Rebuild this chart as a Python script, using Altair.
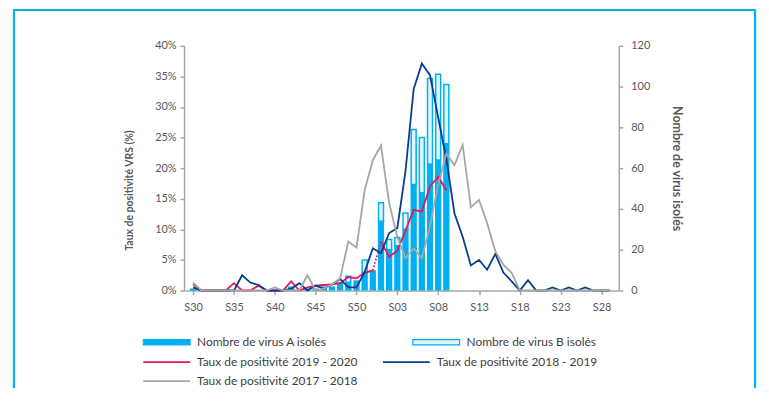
import json
import altair as alt
import pandas as pd

# ---------------- data ----------------
weeks = ["S30", "S31", "S32", "S33", "S34", "S35", "S36", "S37", "S38", "S39",
         "S40", "S41", "S42", "S43", "S44", "S45", "S46", "S47", "S48", "S49",
         "S50", "S51", "S52", "S01", "S02", "S03", "S04", "S05", "S06", "S07",
         "S08", "S09", "S10", "S11", "S12", "S13", "S14", "S15", "S16", "S17",
         "S18", "S19", "S20", "S21", "S22", "S23", "S24", "S25", "S26", "S27",
         "S28", "S29"]
tick_labels = ["S30", "S35", "S40", "S45", "S50", "S03", "S08", "S13", "S18", "S23", "S28"]

# positivity rates (%), left axis
rate_2019_2020 = [1.0, 0, 0, 0, 0, 1.2, 0, 0, 0.8, 0,
                  0, 0, 1.5, 0, 0.5, 0.8, 0.9, 1.0, 1.2, 2.2,
                  2.0, 2.9, 3.3, 8.0, 5.5, 6.5, 9.8, 13.2, 12.9, 17.0,
                  18.6, 16.4]
rate_2018_2019 = [0.5, 0, 0, 0, 0, 0, 2.5, 1.3, 0.9, 0,
                  0, 0, 0.3, 1.2, 0, 0.8, 0.3, 1.0, 1.9, 0.5,
                  0.5, 3.0, 6.9, 6.1, 9.4, 10.2, 19.5, 32.9, 37.1, 35.2,
                  28.3, 21.5, 12.6, 8.8, 4.1, 5.0, 3.4, 6.0, 2.9, 1.5,
                  0, 1.7, 0, 0, 0.5, 0, 0.5, 0, 0.5, 0,
                  0, 0]
rate_2017_2018 = [1.3, 0, 0, 0, 0, 0, 0, 0, 0, 0,
                  0.5, 0, 0, 0, 2.5, 0, 0.3, 1.0, 2.0, 8.0,
                  7.0, 16.4, 21.3, 23.7, 14.3, 8.8, 5.3, 6.9, 5.3, 10.5,
                  17.3, 22.4, 20.5, 23.8, 13.6, 14.8, 11.0, 6.4, 4.2, 2.9,
                  0, 0, 0, 0, 0, 0, 0, 0, 0, 0,
                  0, 0]

# isolated viruses (count), right axis
virus_a = [1, 0, 0, 0, 0, 0, 0, 0, 0, 0,
           0, 0, 2, 0, 1, 1, 2, 2, 4, 4,
           5, 9, 10, 34, 20, 22, 30, 52, 48, 62,
           64, 72, 0, 0, 0, 0, 0, 0, 0, 0,
           0, 0, 0, 0, 0, 0, 0, 0, 0, 0,
           0, 0]
virus_b = [0, 0, 0, 0, 0, 0, 0, 0, 0, 0,
           0, 0, 0, 0, 0, 0, 0, 0, 0, 3,
           0, 6, 0, 9, 5, 4, 8, 27, 27, 42,
           42, 29, 0, 0, 0, 0, 0, 0, 0, 0,
           0, 0, 0, 0, 0, 0, 0, 0, 0, 0,
           0, 0]

line_names = ["Taux de positivité 2019 - 2020",
              "Taux de positivité 2018 - 2019",
              "Taux de positivité 2017 - 2018"]
line_colors = ["#e5175b", "#0b3c8e", "#a6a6a6"]
bar_names = ["Nombre de virus A isolés", "Nombre de virus B isolés"]
bar_colors = ["#00b0f0", "#e2f5fd"]

FONT = "Lato"
TEXT = "#595959"
FRAME = "#00b0f0"
n = len(weeks)

bars = pd.DataFrame({"idx": list(range(n)), "week": weeks, "A": virus_a, "B": virus_b})

rows = []
for name, values in zip(line_names, [rate_2019_2020, rate_2018_2019, rate_2017_2018]):
    for i, v in enumerate(values):
        seg = "after" if (name == line_names[0] and i >= 23) else "before"
        rows.append({"idx": i, "week": weeks[i], "series": name, "pct": v, "seg": seg})
lines = pd.DataFrame(rows)

# ---------------- encodings ----------------
x_enc = alt.X(
    "idx:Q",
    scale=alt.Scale(domain=[-0.5, n - 0.5], nice=False, zero=False),
    axis=alt.Axis(
        values=[5 * k for k in range(len(tick_labels))],
        labelExpr=f"{json.dumps(tick_labels)}[round(datum.value / 5)]",
        title=None, grid=False, tickSize=4, labelPadding=7, labelFlush=5,
    ),
)

right_scale = alt.Scale(domain=[0, 120], nice=False)
right_axis = alt.Axis(orient="right", values=list(range(0, 121, 20)),
                      title="Nombre de virus isolés", grid=False, tickSize=4,
                      labelPadding=8, titlePadding=20, titleFontSize=12.5)

left_scale = alt.Scale(domain=[0, 40], nice=False)
left_axis = alt.Axis(orient="left", values=list(range(0, 41, 5)),
                     labelExpr="datum.value + '%'",
                     title="Taux de positivité VRS (%)", grid=False, tickSize=4,
                     labelPadding=4, titlePadding=20, titleFontSize=10.5, titleY=145)

bar_legend = alt.Legend(
    orient="none", direction="horizontal", legendX=-42, legendY=291, columns=2,
    columnPadding=85, rowPadding=5, clipHeight=14, title=None, padding=0,
    symbolType="M-1,-0.11H1V0.11H-1Z", symbolSize=2209,
    symbolStrokeColor="#00b0f0", symbolStrokeWidth=1.2, symbolOpacity=1,
    labelFont=FONT, labelFontSize=12, labelColor="#404040", labelOffset=6, labelLimit=400,
)
line_legend = alt.Legend(
    orient="none", direction="horizontal", legendX=-42, legendY=311, columns=2,
    columnPadding=24, rowPadding=5, clipHeight=14, title=None, padding=0,
    symbolType="stroke", symbolSize=2209, symbolStrokeWidth=1.8,
    labelFont=FONT, labelFontSize=12, labelColor="#404040", labelOffset=6, labelLimit=400,
)

bar_fill = alt.Fill("type:N", scale=alt.Scale(domain=bar_names, range=bar_colors), legend=bar_legend)
line_stroke = alt.Stroke("series:N", scale=alt.Scale(domain=line_names, range=line_colors), legend=line_legend)

# ---------------- layers ----------------
bar_a = (
    alt.Chart(bars)
    .transform_filter("datum.A > 0")
    .transform_calculate(type=f"'{bar_names[0]}'")
    .mark_bar(size=6.3)
    .encode(x=x_enc, y=alt.Y("A:Q", scale=right_scale, axis=right_axis), fill=bar_fill)
)
bar_b = (
    alt.Chart(bars)
    .transform_filter("datum.B > 0")
    .transform_calculate(type=f"'{bar_names[1]}'", top="datum.A + datum.B")
    .mark_bar(size=5, stroke="#00b0f0", strokeWidth=1.5)
    .encode(x=x_enc, y=alt.Y("top:Q", scale=right_scale, axis=right_axis), y2="A:Q", fill=bar_fill)
)

y_left = alt.Y("pct:Q", scale=left_scale, axis=left_axis)


def series_line(name, **mark):
    return (
        alt.Chart(lines)
        .transform_filter(alt.datum.series == name)
        .mark_line(strokeWidth=1.8, **mark)
        .encode(x=x_enc, y=y_left, stroke=line_stroke, detail="seg:N")
    )


red = series_line(line_names[0])
red_dot = (
    alt.Chart(lines)
    .transform_filter((alt.datum.series == line_names[0]) & (alt.datum.idx >= 22) & (alt.datum.idx <= 23))
    .mark_line(strokeWidth=1.8, strokeDash=[1.5, 2])
    .encode(x=x_enc, y=y_left, stroke=line_stroke)
)
blue = series_line(line_names[1])
gray = series_line(line_names[2])

# decorative outer frame (box around the whole figure)
frame = (
    alt.Chart(pd.DataFrame({"frame": [0]}))
    .mark_rect(fill=None, stroke=FRAME, strokeWidth=2.2)
    .encode(x=alt.value(-171), x2=alt.value(574), y=alt.value(-36), y2=alt.value(420))
)

chart = (
    alt.layer(alt.layer(bar_a, bar_b), alt.layer(red, red_dot, blue, gray), frame)
    .resolve_scale(y="independent")
    .properties(width=437, height=246, autosize="none",
                padding={"left": 177, "top": 37, "right": 143, "bottom": 97})
    .configure_view(stroke=None)
    .configure_axis(labelFont=FONT, titleFont=FONT, labelColor=TEXT, titleColor=TEXT,
                    labelFontSize=11, titleFontWeight="bold",
                    domainColor="#a6a6a6", tickColor="#a6a6a6", domainWidth=1.5, tickWidth=1.5)
)

chart.save("out.html", embed_options={"renderer": "svg", "actions": False})
